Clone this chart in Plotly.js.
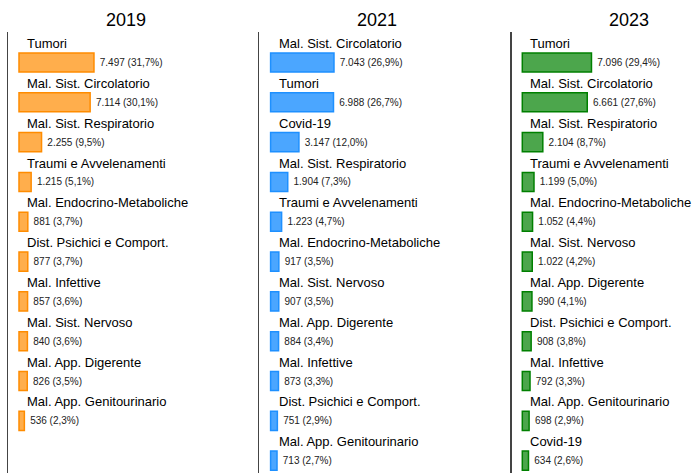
<!DOCTYPE html>
<html>
<head>
<meta charset="utf-8">
<script src="https://cdn.plot.ly/plotly-3.0.1.min.js"></script>
<style>
  html, body { margin: 0; padding: 0; background: #fff; }
  #plot { width: 695px; height: 473px; }
</style>
</head>
<body>
<div id="plot"></div>
<script>
// causes of death, three years
var cats2019 = ['Tumori', 'Mal. Sist. Circolatorio', 'Mal. Sist. Respiratorio', 'Traumi e Avvelenamenti',
  'Mal. Endocrino-Metaboliche', 'Dist. Psichici e Comport.', 'Mal. Infettive', 'Mal. Sist. Nervoso',
  'Mal. App. Digerente', 'Mal. App. Genitourinario'];
var vals2019 = [7497, 7114, 2255, 1215, 881, 877, 857, 840, 826, 536];
var pct2019 = [31.7, 30.1, 9.5, 5.1, 3.7, 3.7, 3.6, 3.6, 3.5, 2.3];

var cats2021 = ['Mal. Sist. Circolatorio', 'Tumori', 'Covid-19', 'Mal. Sist. Respiratorio',
  'Traumi e Avvelenamenti', 'Mal. Endocrino-Metaboliche', 'Mal. Sist. Nervoso', 'Mal. App. Digerente',
  'Mal. Infettive', 'Dist. Psichici e Comport.', 'Mal. App. Genitourinario'];
var vals2021 = [7043, 6988, 3147, 1904, 1223, 917, 907, 884, 873, 751, 713];
var pct2021 = [26.9, 26.7, 12.0, 7.3, 4.7, 3.5, 3.5, 3.4, 3.3, 2.9, 2.7];

var cats2023 = ['Tumori', 'Mal. Sist. Circolatorio', 'Mal. Sist. Respiratorio', 'Traumi e Avvelenamenti',
  'Mal. Endocrino-Metaboliche', 'Mal. Sist. Nervoso', 'Mal. App. Digerente', 'Dist. Psichici e Comport.',
  'Mal. Infettive', 'Mal. App. Genitourinario', 'Covid-19'];
var vals2023 = [7096, 6661, 2104, 1199, 1052, 1022, 990, 908, 792, 698, 634];
var pct2023 = [29.4, 27.6, 8.7, 5.0, 4.4, 4.2, 4.1, 3.8, 3.3, 2.9, 2.6];

var years = ['2019', '2021', '2023'];

function fmtInt(n) {
  return String(n).replace(/\B(?=(\d{3})+(?!\d))/g, '.');
}
function fmtPct(p) {
  return p.toFixed(1).replace('.', ',') + '%';
}

var panels = [
  {cats: cats2019, vals: vals2019, pct: pct2019, fill: 'rgba(255,140,0,0.7)', line: '#ff8c00',
   dom: [8 / 695, 244 / 695], range: [-1100, 22500]},
  {cats: cats2021, vals: vals2021, pct: pct2021, fill: 'rgba(30,144,255,0.8)', line: '#1e90ff',
   dom: [259.3 / 695, 494.5 / 695], range: [-1256, 24878]},
  {cats: cats2023, vals: vals2023, pct: pct2023, fill: 'rgba(0,128,0,0.7)', line: '#008000',
   dom: [511.7 / 695, 1], range: [-1087, 17713]}
];

var data = [];
var annotations = [];
var layout = {
  width: 695, height: 473,
  margin: {l: 0, r: 0, t: 32, b: 0},
  paper_bgcolor: '#fff', plot_bgcolor: '#fff',
  showlegend: false,
  font: {family: 'Liberation Sans, Arial, sans-serif', color: '#000'}
};

panels.forEach(function (p, k) {
  var sfx = k === 0 ? '' : String(k + 1);
  var rows = p.cats.map(function (c, i) { return -i; });
  data.push({
    type: 'bar',
    orientation: 'h',
    x: p.vals,
    y: rows,
    width: 0.48,
    xaxis: 'x' + sfx,
    yaxis: 'y' + sfx,
    marker: {color: p.fill, line: {color: p.line, width: 1.5}},
    text: p.vals.map(function (v, i) { return '\u00a0' + fmtInt(v) + ' (' + fmtPct(p.pct[i]) + ')'; }),
    textposition: 'outside',
    constraintext: 'none',
    cliponaxis: false,
    textfont: {size: 10, color: '#222'},
    hoverinfo: 'skip'
  });

  layout['xaxis' + sfx] = {
    domain: p.dom, range: p.range, anchor: 'y' + sfx,
    visible: false, fixedrange: true
  };
  layout['yaxis' + sfx] = {
    domain: [0, 1], range: [-10.31, 0.766], anchor: 'x' + sfx,
    showline: true, linecolor: '#444', linewidth: 1.5,
    showgrid: false, zeroline: false, showticklabels: false, ticks: '',
    fixedrange: true
  };

  p.cats.forEach(function (c, i) {
    annotations.push({
      xref: 'x' + sfx, yref: 'y' + sfx,
      x: 0, y: -i + 0.475,
      xanchor: 'left', yanchor: 'middle', xshift: 6,
      text: c, showarrow: false,
      font: {size: 13, color: '#000'}
    });
  });

  annotations.push({
    xref: 'paper', yref: 'paper',
    x: [126, 377, 629][k] / 695, y: 1.028,
    xanchor: 'center', yanchor: 'middle',
    text: years[k], showarrow: false,
    font: {size: 18, color: '#000'}
  });
});

layout.annotations = annotations;

Plotly.newPlot('plot', data, layout, {staticPlot: true, displayModeBar: false});
</script>
</body>
</html>
